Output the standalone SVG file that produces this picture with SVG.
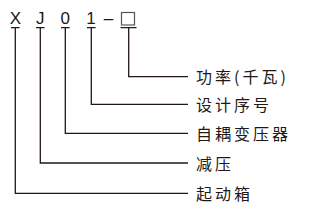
<svg xmlns="http://www.w3.org/2000/svg" width="324" height="211" viewBox="0 0 324 211">
<style>
.ln{fill:none;stroke:#231815;stroke-width:1.3}
.code{font-family:"Liberation Sans",Arial,sans-serif;font-size:17px;fill:#231815;text-anchor:middle}
.lbl{font-family:"Noto Sans CJK SC","Noto Sans",sans-serif;font-size:16px;letter-spacing:3px;fill:#231815}
</style>
<rect width="324" height="211" fill="#fff"/>
<g id="code">
<text class="code" x="15.5" y="24">X</text>
<text class="code" x="40.3" y="24">J</text>
<text class="code" x="65.3" y="24">0</text>
<text class="code" x="91" y="24">1</text>
<text class="code" x="108.5" y="24">–</text>
<rect x="121.5" y="12.5" width="13" height="12.5" fill="none" stroke="#555" stroke-width="1.2"/>
</g>
<g id="connectors">
<path class="ln" d="M11 27.7H19.6M36 27.7H44.6M61 27.7H69.6M87 27.7H95.6M120.5 27.7H136.5"/>
<path class="ln" d="M128.7 27.7V76.7H188"/>
<path class="ln" d="M91.3 27.7V104.3H188"/>
<path class="ln" d="M65.3 27.7V133.3H188"/>
<path class="ln" d="M40.3 27.7V163H188"/>
<path class="ln" d="M15.3 27.7V193.3H188"/>
</g>
<g id="label-power"><text class="lbl" x="196" y="83">功率(千瓦)</text></g>
<g id="label-design"><text class="lbl" x="196" y="110.8">设计序号</text></g>
<g id="label-auto"><text class="lbl" x="196" y="139.8">自耦变压器</text></g>
<g id="label-reduce"><text class="lbl" x="196" y="169.5">减压</text></g>
<g id="label-box"><text class="lbl" x="196" y="199.8">起动箱</text></g>
</svg>
